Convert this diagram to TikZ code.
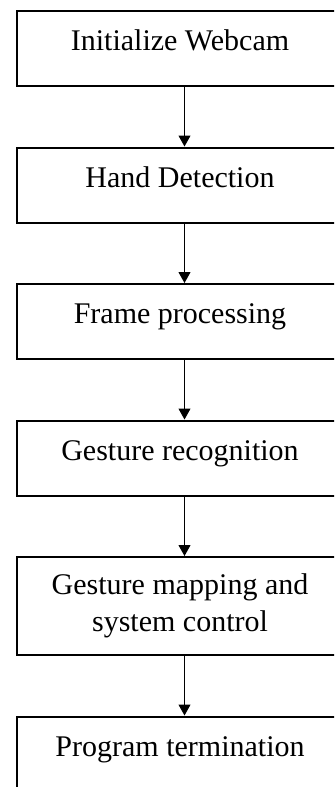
\documentclass[tikz,border=0pt]{standalone}
\usepackage{fontspec}
\setmainfont{Liberation Serif}
\usetikzlibrary{positioning,arrows.meta}

\begin{document}
\begin{tikzpicture}[x=0.5pt, y=-0.5pt, node distance=29.75pt,
    my box/.style={draw, line width=1pt, minimum width=163.5pt, minimum height=37.5pt, inner sep=0pt, font=\fontsize{15pt}{18.35pt}\selectfont, text height=10.5pt, text depth=8.5pt},
    my arrow/.style={line width=0.5pt, -{Triangle[length=5.5pt, width=6pt]}}]
  \useasboundingbox (0,0) rectangle (334,787);
  \clip (0,0) rectangle (334,787);
  \node (init) [my box] at (180,48.5) {Initialize Webcam};
  \node (detect) [my box, below=of init] {Hand Detection};
  \node (frame) [my box, below=of detect] {Frame processing};
  \node (recog) [my box, below=of frame] {Gesture recognition};
  \node (map) [my box, below=of recog, minimum height=49pt, align=center, text height=, text depth=] {Gesture mapping and\\system control};
  \node (stop) [my box, below=of map] {Program termination};
  \coordinate (ax) at (184.5,0);
  \foreach \a/\b in {init/detect, detect/frame, frame/recog, recog/map, map/stop}
    \draw [my arrow] (\a.south -| ax) -- (\b.north -| ax);
\end{tikzpicture}
\end{document}
